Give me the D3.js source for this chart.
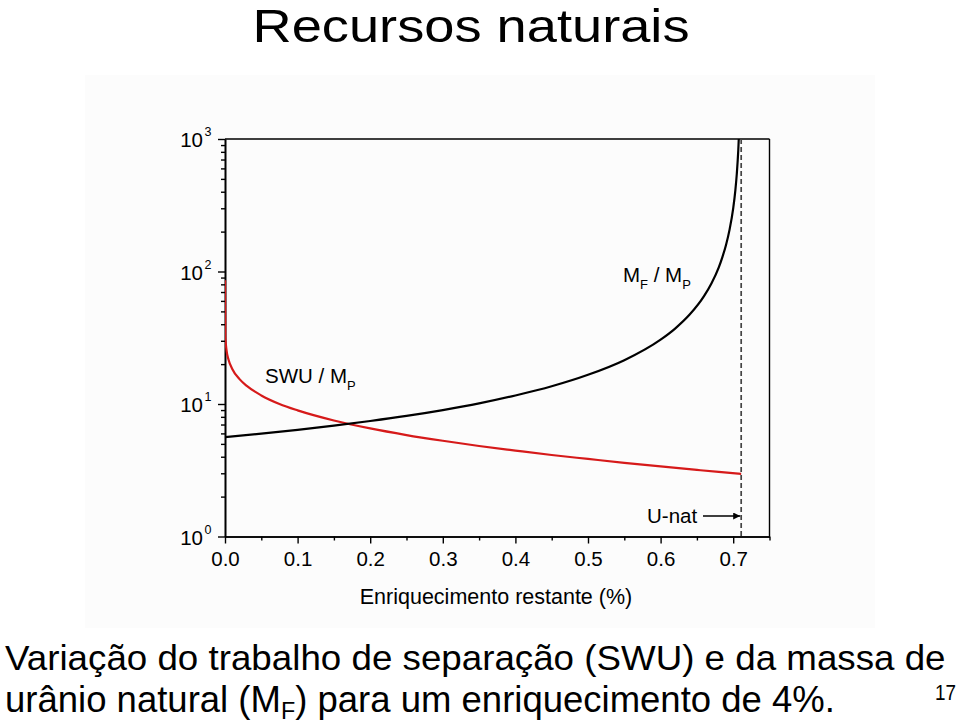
<!DOCTYPE html>
<html>
<head>
<meta charset="utf-8">
<script src="https://cdn.jsdelivr.net/npm/d3@7"></script>
<style>
  html, body { margin: 0; padding: 0; background: #fff; }
  svg { display: block; font-family: "Liberation Sans", Arial, sans-serif; }
</style>
</head>
<body>
<svg id="chart" width="960" height="724"></svg>
<script>
// ---- data ----
const xTicks = [0.0, 0.1, 0.2, 0.3, 0.4, 0.5, 0.6, 0.7];
const xMinorTicks = [0.05, 0.15, 0.25, 0.35, 0.45, 0.55, 0.65, 0.75];
const yDecades = [1, 10, 100, 1000];
const yExponents = ["0", "1", "2", "3"];
const uNat = 0.711;

// M_F / M_P (black)
const feedX = [0, 0.05, 0.1, 0.15, 0.2, 0.25, 0.3, 0.35, 0.4, 0.45, 0.5, 0.55, 0.6, 0.62, 0.64, 0.66, 0.67, 0.68, 0.685, 0.69, 0.695, 0.7, 0.703, 0.705, 0.707, 0.708];
const feedY = [5.63, 5.98, 6.38, 6.86, 7.44, 8.13, 9.0, 10.1, 11.6, 13.6, 16.6, 21.4, 30.6, 37.1, 47.3, 65.5, 81.2, 107, 128, 158, 207, 300, 412, 549, 823, 1097];

// SWU / M_P (red)
const swuX = [0, 0.0005, 0.002, 0.005, 0.01, 0.02, 0.03, 0.05, 0.075, 0.1, 0.15, 0.2, 0.25, 0.3, 0.35, 0.4, 0.45, 0.5, 0.55, 0.6, 0.65, 0.68, 0.711];
const swuY = [86, 32, 25.7, 21.5, 18.4, 15.4, 13.7, 11.6, 10.0, 8.95, 7.51, 6.54, 5.83, 5.28, 4.82, 4.45, 4.12, 3.85, 3.60, 3.38, 3.18, 3.07, 2.97];

const svg = d3.select("#chart");
const FONT = '"Liberation Sans", Arial, sans-serif';
const NARROW = '"Liberation Sans Narrow", "Arial Narrow", "Liberation Sans", Arial, sans-serif';

// light panel of the pasted figure
svg.append("rect").attr("x", 85).attr("y", 75).attr("width", 790).attr("height", 553)
  .attr("fill", "#fcfcfc");

// title
svg.append("text").attr("x", 471).attr("y", 42).attr("text-anchor", "middle")
  .attr("font-size", 46).attr("fill", "#000")
  .attr("textLength", 437).attr("lengthAdjust", "spacingAndGlyphs")
  .text("Recursos naturais");

// scales
const x = d3.scaleLinear().domain([0, 0.75]).range([225, 769.5]);
const y = d3.scaleLog().domain([1, 1000]).range([536.5, 139]);

// clip
svg.append("clipPath").attr("id", "plotclip").append("rect")
  .attr("x", x(0)).attr("y", y(1000)).attr("width", x(0.75) - x(0)).attr("height", y(1) - y(1000));

const fs = 20.5;

// frame (top, right)
svg.append("line").attr("x1", x(0)).attr("x2", x(0.75)).attr("y1", y(1000)).attr("y2", y(1000))
  .attr("stroke", "#000").attr("stroke-width", 1.4);
svg.append("line").attr("x1", x(0.75)).attr("x2", x(0.75)).attr("y1", y(1000)).attr("y2", y(1))
  .attr("stroke", "#000").attr("stroke-width", 1.4);

// x axis
const gx = svg.append("g").attr("transform", `translate(0,${y(1)})`)
  .call(d3.axisBottom(x).tickValues(xTicks).tickSize(7).tickSizeOuter(0).tickPadding(8)
    .tickFormat(d3.format(".1f")));
gx.append("g").call(d3.axisBottom(x).tickValues(xMinorTicks).tickSize(4).tickSizeOuter(0).tickFormat(""));
gx.selectAll("path.domain").attr("stroke-width", 1.6);
gx.selectAll(".tick line").attr("stroke-width", 1.4);
gx.selectAll(".tick text").attr("font-size", fs).attr("font-family", FONT).attr("fill", "#000");
svg.selectAll("g path.domain").attr("stroke", "#000");

// y axis
const minor = [];
yDecades.slice(0, -1).forEach(d => { for (let k = 2; k <= 9; k++) minor.push(d * k); });
const gy = svg.append("g").attr("transform", `translate(${x(0)},0)`)
  .call(d3.axisLeft(y).tickValues(yDecades).tickSize(7).tickSizeOuter(0).tickFormat(() => ""));
gy.append("g").call(d3.axisLeft(y).tickValues(minor).tickSize(4).tickSizeOuter(0).tickFormat(""));
gy.selectAll("path.domain").attr("stroke-width", 1.6).attr("stroke", "#000");
gy.selectAll(".tick line").attr("stroke-width", 1.4);

svg.append("g").selectAll("text").data(yDecades).join("text")
  .attr("x", 203).attr("y", d => y(d) + 8)
  .attr("text-anchor", "end").attr("font-size", fs).attr("fill", "#000")
  .text("10");
svg.append("g").selectAll("text").data(yDecades).join("text")
  .attr("x", 204.5).attr("y", d => y(d) - 3)
  .attr("font-size", 12.5).attr("fill", "#000")
  .text((d, i) => yExponents[i]);

// axis title
svg.append("text").attr("x", 496).attr("y", 604).attr("text-anchor", "middle")
  .attr("font-size", 21.5).attr("fill", "#000")
  .text("Enriquecimento restante (%)");

// dashed U-nat line
svg.append("line").attr("x1", x(uNat)).attr("x2", x(uNat)).attr("y1", y(1000)).attr("y2", y(1))
  .attr("stroke", "#444").attr("stroke-width", 1.7).attr("stroke-dasharray", "5,3");

// curves
const line = d3.line().x(d => x(d[0])).y(d => y(d[1])).curve(d3.curveMonotoneX);
const plot = svg.append("g").attr("clip-path", "url(#plotclip)");
plot.append("path").datum(swuX.map((v, i) => [v, swuY[i]]))
  .attr("d", line).attr("fill", "none").attr("stroke", "#d61a1a").attr("stroke-width", 2.2);
plot.append("path").datum(feedX.map((v, i) => [v, feedY[i]]))
  .attr("d", line).attr("fill", "none").attr("stroke", "#000").attr("stroke-width", 2.2);

// annotations
function subLabel(xp, yp, main, sub, rest, sub2) {
  const t = svg.append("text").attr("x", xp).attr("y", yp).attr("font-size", fs).attr("fill", "#000");
  t.append("tspan").text(main);
  t.append("tspan").attr("font-size", 13).attr("dy", 7).text(sub);
  if (rest) {
    t.append("tspan").attr("dy", -7).text(rest);
    t.append("tspan").attr("font-size", 13).attr("dy", 7).text(sub2);
  }
}
subLabel(623, 282, "M", "F", " / M", "P");
subLabel(265, 383, "SWU / M", "P");

svg.append("text").attr("x", 647).attr("y", 523).attr("font-size", fs).attr("fill", "#000").text("U-nat");
svg.append("defs").append("marker").attr("id", "arrow").attr("viewBox", "0 0 10 10")
  .attr("refX", 10).attr("refY", 5).attr("markerWidth", 11).attr("markerHeight", 7)
  .attr("markerUnits", "userSpaceOnUse").attr("orient", "auto")
  .append("path").attr("d", "M0,0 L10,5 L0,10 Z").attr("fill", "#000");
svg.append("line").attr("x1", 703).attr("x2", x(uNat) - 1).attr("y1", 516).attr("y2", 516)
  .attr("stroke", "#000").attr("stroke-width", 1.5).attr("marker-end", "url(#arrow)");

// caption (narrow sans)
function fitText(sel, targetW) {
  const w = sel.node().getBBox().width;
  const x0 = +sel.attr("x");
  const s = targetW / w;
  sel.attr("transform", `translate(${x0},0) scale(${s},1) translate(${-x0},0)`);
}
const cap1 = svg.append("text").attr("x", 5).attr("y", 670).attr("font-size", 36)
  .attr("font-family", NARROW).attr("fill", "#000")
  .text("Variação do trabalho de separação (SWU) e da massa de");
fitText(cap1, 941);
const cap2 = svg.append("text").attr("x", 5).attr("y", 712).attr("font-size", 36)
  .attr("font-family", NARROW).attr("fill", "#000");
cap2.append("tspan").text("urânio natural (M");
cap2.append("tspan").attr("font-size", 23).attr("dy", 7).text("F");
cap2.append("tspan").attr("dy", -7).text(") para um enriquecimento de 4%.");
fitText(cap2, 830);
const pg = svg.append("text").attr("x", 935).attr("y", 700).attr("font-size", 22)
  .attr("font-family", NARROW).attr("fill", "#000").text("17");
fitText(pg, 21);
</script>
</body>
</html>
